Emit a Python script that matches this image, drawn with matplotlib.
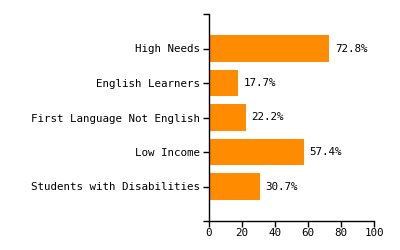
import matplotlib
matplotlib.use("Agg")
import matplotlib.pyplot as plt

categories = ["High Needs", "English Learners", "First Language Not English",
              "Low Income", "Students with Disabilities"]
values = [72.8, 17.7, 22.2, 57.4, 30.7]
x_ticks = [0, 20, 40, 60, 80, 100]

plt.rcParams['font.family'] = ['DejaVu Sans Mono']
fig = plt.figure(figsize=(4, 2.5), dpi=100)
ax = fig.add_axes([0.5225, 0.116, 0.4125, 0.828])

n = len(categories)
pos = [n - i for i in range(n)]
ax.barh(pos, values, height=0.78, color="#FF8C00")
for p, v in zip(pos, values):
    ax.text(v + 3.5, p, f"{v}%", va="center", ha="left", fontsize=7.8, color="#000")

ax.set_xlim(0, 100)
ax.set_ylim(0, n + 1)
ax.set_yticks(pos)
ax.set_yticklabels(categories, fontsize=7.8)
ax.set_yticks([0, n + 1], minor=True)
ax.set_xticks(x_ticks)
ax.set_xticklabels([str(t) for t in x_ticks], fontsize=7.8)
for s in ["top", "right"]:
    ax.spines[s].set_visible(False)
for s in ["left", "bottom"]:
    ax.spines[s].set_linewidth(1)
ax.tick_params(axis="both", which="both", length=4.3, width=1, pad=2)
ax.tick_params(axis="x", pad=0.8)
fig.savefig("out.png", dpi=100)
